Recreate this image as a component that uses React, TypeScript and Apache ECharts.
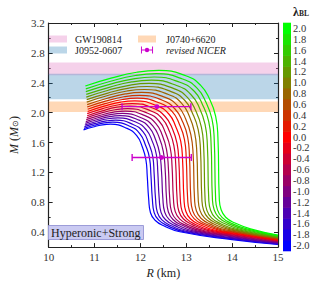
import React, { useEffect, useRef } from 'react';
import * as echarts from 'echarts';

const FONT = 'Liberation Serif';

const lambdas = [-2.0, -1.8, -1.6, -1.4, -1.2, -1.0, -0.8, -0.6, -0.4, -0.2, 0.0, 0.2, 0.4, 0.6, 0.8, 1.0, 1.2, 1.4, 1.6, 1.8, 2.0];

// Mass-radius curves, one per lambda value, [R (km), M (Msun)]
const mrCurves: number[][][] = [
  [[10.76,1.770],[10.97,1.808],[11.17,1.836],[11.35,1.845],[11.71,1.789],[11.92,1.691],[12.04,1.544],[12.12,1.369],[12.15,1.145],[12.18,0.850],[12.22,0.660],[12.32,0.560],[12.51,0.485],[12.86,0.405],[14.00,0.300],[15.00,0.235]],
  [[10.77,1.790],[10.99,1.831],[11.21,1.862],[11.40,1.872],[11.78,1.815],[11.99,1.716],[12.11,1.567],[12.20,1.389],[12.23,1.162],[12.26,0.850],[12.30,0.662],[12.40,0.562],[12.59,0.487],[12.94,0.407],[14.00,0.309],[15.00,0.241]],
  [[10.78,1.812],[11.02,1.856],[11.26,1.889],[11.46,1.900],[11.84,1.842],[12.06,1.742],[12.18,1.590],[12.27,1.410],[12.30,1.180],[12.33,0.850],[12.37,0.664],[12.47,0.564],[12.66,0.489],[13.01,0.409],[14.00,0.318],[15.00,0.247]],
  [[10.79,1.834],[11.04,1.882],[11.29,1.918],[11.51,1.929],[11.91,1.871],[12.13,1.768],[12.26,1.615],[12.35,1.433],[12.38,1.199],[12.41,0.850],[12.45,0.666],[12.55,0.566],[12.74,0.491],[13.09,0.411],[14.00,0.327],[15.00,0.254]],
  [[10.80,1.857],[11.07,1.908],[11.33,1.947],[11.56,1.959],[11.97,1.900],[12.20,1.796],[12.33,1.641],[12.42,1.456],[12.46,1.219],[12.49,0.850],[12.53,0.668],[12.63,0.568],[12.82,0.493],[13.17,0.413],[14.00,0.336],[15.00,0.260]],
  [[10.81,1.880],[11.09,1.935],[11.37,1.976],[11.61,1.989],[12.03,1.929],[12.27,1.824],[12.41,1.667],[12.50,1.479],[12.54,1.239],[12.57,0.850],[12.61,0.670],[12.71,0.570],[12.90,0.495],[13.25,0.415],[14.00,0.345],[15.00,0.266]],
  [[10.82,1.906],[11.12,1.964],[11.42,2.007],[11.67,2.021],[12.10,1.960],[12.34,1.854],[12.48,1.694],[12.57,1.504],[12.61,1.261],[12.64,0.850],[12.68,0.672],[12.78,0.572],[12.97,0.497],[13.32,0.417],[14.00,0.354],[15.00,0.272]],
  [[10.83,1.932],[11.14,1.993],[11.45,2.039],[11.72,2.054],[12.16,1.992],[12.41,1.885],[12.55,1.723],[12.65,1.530],[12.69,1.284],[12.72,0.850],[12.76,0.674],[12.86,0.574],[13.05,0.499],[13.40,0.419],[14.00,0.363],[15.00,0.278]],
  [[10.84,1.959],[11.17,2.024],[11.49,2.073],[11.77,2.088],[12.22,2.026],[12.48,1.916],[12.63,1.753],[12.73,1.558],[12.77,1.308],[12.80,0.850],[12.84,0.676],[12.94,0.576],[13.13,0.501],[13.48,0.421],[14.00,0.372],[15.00,0.285]],
  [[10.84,1.986],[11.18,2.054],[11.53,2.106],[11.82,2.122],[12.28,2.059],[12.54,1.948],[12.70,1.782],[12.80,1.585],[12.84,1.332],[12.87,0.850],[12.91,0.678],[13.01,0.578],[13.20,0.503],[13.55,0.423],[14.00,0.381],[15.00,0.291]],
  [[10.85,2.016],[11.21,2.087],[11.57,2.141],[11.88,2.158],[12.35,2.094],[12.62,1.982],[12.77,1.814],[12.88,1.614],[12.92,1.358],[12.95,0.850],[12.99,0.680],[13.09,0.580],[13.28,0.505],[13.63,0.425],[14.00,0.390],[15.00,0.297]],
  [[10.85,2.045],[11.23,2.120],[11.61,2.176],[11.93,2.194],[12.42,2.129],[12.69,2.016],[12.85,1.846],[12.96,1.643],[13.00,1.384],[13.03,0.850],[13.07,0.682],[13.17,0.582],[13.36,0.507],[13.71,0.427],[14.00,0.399],[15.00,0.303]],
  [[10.84,2.076],[11.24,2.154],[11.64,2.213],[11.98,2.232],[12.48,2.166],[12.75,2.052],[12.92,1.879],[13.03,1.674],[13.07,1.412],[13.10,0.850],[13.14,0.684],[13.24,0.584],[13.43,0.509],[13.78,0.429],[14.00,0.408],[15.00,0.309]],
  [[10.84,2.107],[11.26,2.189],[11.67,2.250],[12.03,2.270],[12.54,2.204],[12.82,2.087],[12.99,1.913],[13.10,1.706],[13.15,1.440],[13.18,0.850],[13.22,0.686],[13.32,0.586],[13.51,0.511],[13.86,0.431],[15.00,0.316]],
  [[10.83,2.141],[11.27,2.226],[11.71,2.290],[12.09,2.310],[12.61,2.243],[12.90,2.125],[13.07,1.949],[13.18,1.739],[13.23,1.470],[13.26,0.850],[13.30,0.688],[13.40,0.588],[13.59,0.513],[13.94,0.433],[15.00,0.322]],
  [[10.83,2.174],[11.29,2.262],[11.75,2.329],[12.14,2.350],[12.67,2.282],[12.97,2.163],[13.14,1.985],[13.26,1.772],[13.31,1.500],[13.34,0.850],[13.38,0.690],[13.48,0.590],[13.67,0.515],[14.02,0.435],[15.00,0.328]],
  [[10.82,2.208],[11.30,2.300],[11.78,2.369],[12.19,2.391],[12.73,2.322],[13.03,2.202],[13.21,2.021],[13.33,1.806],[13.38,1.531],[13.41,0.850],[13.45,0.692],[13.55,0.592],[13.74,0.517],[14.09,0.437],[15.00,0.334]],
  [[10.82,2.244],[11.32,2.339],[11.81,2.411],[12.24,2.434],[12.79,2.364],[13.10,2.243],[13.29,2.060],[13.41,1.842],[13.46,1.564],[13.49,0.850],[13.53,0.694],[13.63,0.594],[13.82,0.519],[14.17,0.439],[15.00,0.340]],
  [[10.81,2.281],[11.33,2.379],[11.85,2.453],[12.30,2.477],[12.86,2.407],[13.18,2.283],[13.36,2.099],[13.49,1.879],[13.54,1.597],[13.57,0.850],[13.61,0.696],[13.71,0.596],[13.90,0.521],[14.25,0.441],[15.00,0.347]],
  [[10.81,2.318],[11.35,2.420],[11.89,2.497],[12.35,2.521],[12.92,2.450],[13.24,2.325],[13.43,2.138],[13.56,1.916],[13.61,1.631],[13.64,0.850],[13.68,0.698],[13.78,0.598],[13.97,0.523],[14.32,0.443],[15.00,0.353]],
  [[10.80,2.356],[11.36,2.461],[11.92,2.541],[12.40,2.566],[12.99,2.494],[13.31,2.368],[13.51,2.179],[13.64,1.954],[13.69,1.666],[13.72,0.850],[13.76,0.700],[13.86,0.600],[14.05,0.525],[14.40,0.445],[15.00,0.360]],
];

// Observational mass bands
const bandNames = ['GW190814', 'J0952-0607', 'J0740+6620'];
const bandLow = [2.50, 2.18, 2.01];
const bandHigh = [2.67, 2.52, 2.15];
const bandColors = ['rgba(227,119,194,0.34)', 'rgba(31,119,180,0.30)', 'rgba(255,127,14,0.30)'];

// revised NICER points
const nicerR = [12.36, 12.46];
const nicerM = [2.08, 1.40];
const nicerRLow = [11.60, 11.82];
const nicerRHigh = [13.10, 13.11];

const yTicks = [0.4, 0.8, 1.2, 1.6, 2.0, 2.4, 2.8, 3.2];
const cbTicks = lambdas;

function brg(l: number): string {
  const t = (l + 2) / 4;
  let r: number, g: number, b: number;
  if (t <= 0.5) { r = 2 * t; g = 0; b = 1 - 2 * t; }
  else { r = 2 - 2 * t; g = 2 * t - 1; b = 0; }
  return `rgb(${Math.round(r * 255)},${Math.round(g * 255)},${Math.round(b * 255)})`;
}

const AXC = '#222';
const LBL = { fontFamily: FONT, fontSize: 11, color: '#333' };

export default function App() {
  const ref = useRef<HTMLDivElement>(null);
  useEffect(() => {
    if (!ref.current) return;
    const chart = echarts.init(ref.current, null, { renderer: 'svg' });

    const bandSeries = bandNames.map((name, i) => ({
      name,
      type: 'custom',
      xAxisIndex: 0,
      yAxisIndex: 0,
      z: 1,
      clip: false,
      itemStyle: { color: bandColors[i] },
      data: [[12.5, bandLow[i], bandHigh[i]]],
      renderItem: (params: any, api: any) => {
        const p1 = api.coord([10, api.value(2)]);
        const p2 = api.coord([15, api.value(1)]);
        return {
          type: 'rect',
          shape: { x: p1[0], y: p1[1], width: p2[0] - p1[0], height: p2[1] - p1[1] },
          style: { fill: bandColors[i] },
        };
      },
    }));

    const curveSeries = mrCurves.map((pts, i) => ({
      name: 'lambda ' + lambdas[i].toFixed(1),
      type: 'line',
      xAxisIndex: 0,
      yAxisIndex: 0,
      z: 3,
      data: pts,
      showSymbol: false,
      symbol: 'none',
      smooth: 0.5,
      lineStyle: { color: brg(lambdas[i]), width: 1.2 },
      itemStyle: { color: brg(lambdas[i]) },
      silent: true,
    }));

    const nicerColor = '#cc00cc';
    const nicerSeries = {
      name: 'revised NICER',
      type: 'custom',
      xAxisIndex: 0,
      yAxisIndex: 0,
      z: 5,
      itemStyle: { color: nicerColor },
      encode: { x: 0, y: 1 },
      data: nicerR.map((r, i) => [r, nicerM[i], nicerRLow[i], nicerRHigh[i]]),
      renderItem: (params: any, api: any) => {
        const m = api.value(1);
        const pc = api.coord([api.value(0), m]);
        const pl = api.coord([api.value(2), m]);
        const ph = api.coord([api.value(3), m]);
        const st = { stroke: nicerColor, lineWidth: 1.4 };
        return {
          type: 'group',
          children: [
            { type: 'line', shape: { x1: pl[0], y1: pl[1], x2: ph[0], y2: ph[1] }, style: st },
            { type: 'line', shape: { x1: pl[0], y1: pl[1] - 3.5, x2: pl[0], y2: pl[1] + 3.5 }, style: st },
            { type: 'line', shape: { x1: ph[0], y1: ph[1] - 3.5, x2: ph[0], y2: ph[1] + 3.5 }, style: st },
            { type: 'circle', shape: { cx: pc[0], cy: pc[1], r: 2.4 }, style: { fill: nicerColor } },
          ],
        };
      },
    };

    const cbSeries = {
      name: 'colorbar',
      type: 'custom',
      xAxisIndex: 2,
      yAxisIndex: 4,
      silent: true,
      data: lambdas.map((l) => [0.5, l]),
      renderItem: (params: any, api: any) => {
        const l = api.value(1);
        const p1 = api.coord([0, l + 0.1]);
        const p2 = api.coord([1, l - 0.1]);
        return {
          type: 'rect',
          shape: { x: p1[0], y: p1[1] - 0.3, width: p2[0] - p1[0], height: p2[1] - p1[1] + 0.6 },
          style: { fill: brg(l) },
        };
      },
    };

    const subRich = {
      i: { fontFamily: FONT, fontStyle: 'italic', fontSize: 12, color: '#222', padding: [0, 0, 3, 0] },
      n: { fontFamily: FONT, fontSize: 12, color: '#222', padding: [0, 0, 3, 0] },
      s: { fontFamily: FONT, fontSize: 8, color: '#222' },
    };

    const option: any = {
      animation: false,
      backgroundColor: '#fff',
      grid: [
        { left: 36, top: 23, width: 242, height: 228 },
        { left: 283, top: 23, width: 8, height: 228 },
      ],
      title: [
        {
          text: 'Hyperonic+Strong',
          left: 48,
          top: 225,
          backgroundColor: '#cacaf2',
          borderColor: '#9c9cd8',
          borderWidth: 1,
          padding: [2, 3, 1, 3],
          textStyle: { fontFamily: FONT, fontSize: 12, fontWeight: 'normal', color: '#222' },
        },
        {
          text: '{l|λ}{s|BL}',
          left: 288,
          top: 1,
          textStyle: {
            rich: {
              l: { fontFamily: FONT, fontSize: 12, color: '#222', padding: [0, 0, 3, 0] },
              s: { fontFamily: FONT, fontSize: 7.5, color: '#222' },
            },
          },
        },
      ],
      legend: [
        {
          left: 44,
          top: 29,
          orient: 'vertical',
          itemWidth: 18,
          itemHeight: 7,
          itemGap: 1,
          icon: 'rect',
          selectedMode: false,
          data: [bandNames[0], bandNames[1]],
          textStyle: { fontFamily: FONT, fontSize: 10, color: '#222', padding: [0, 0, 0, 3] },
        },
        {
          left: 133,
          top: 29,
          orient: 'vertical',
          itemWidth: 18,
          itemHeight: 7,
          itemGap: 1,
          icon: 'rect',
          selectedMode: false,
          data: [
            bandNames[2],
            {
              name: 'revised NICER',
              icon: 'path://M0,3.1H10V3.9H0Z M0,0.6H0.8V6.4H0Z M9.2,0.6H10V6.4H9.2Z M6.8,3.5A1.8,1.8,0,1,1,3.2,3.5A1.8,1.8,0,1,1,6.8,3.5Z',
              textStyle: { fontStyle: 'italic' },
            },
          ],
          textStyle: { fontFamily: FONT, fontSize: 10, color: '#222', padding: [0, 0, 0, 5] },
        },
      ],
      xAxis: [
        {
          gridIndex: 0, type: 'value', min: 10, max: 15, interval: 1, position: 'bottom',
          axisLine: { show: true, onZero: false, lineStyle: { color: AXC, width: 1.2 } },
          axisTick: { show: true, inside: true, length: 4, lineStyle: { color: AXC } },
          minorTick: { show: true, splitNumber: 2, length: 2, lineStyle: { color: AXC } },
          axisLabel: { ...LBL, margin: 4 },
          splitLine: { show: false },
          name: '{i|R}{n| (km)}',
          nameLocation: 'middle',
          nameGap: 14,
          nameTextStyle: { rich: subRich },
        },
        {
          gridIndex: 0, type: 'value', min: 10, max: 15, interval: 1, position: 'top',
          axisLine: { show: true, onZero: false, lineStyle: { color: AXC, width: 1.2 } },
          axisTick: { show: true, inside: true, length: 4, lineStyle: { color: AXC } },
          minorTick: { show: true, splitNumber: 2, length: 2, lineStyle: { color: AXC } },
          axisLabel: { show: false },
          splitLine: { show: false },
        },
        { gridIndex: 1, type: 'value', min: 0, max: 1, show: false },
      ],
      yAxis: [
        {
          gridIndex: 0, type: 'value', min: 0.2, max: 3.2, interval: 0.2, position: 'left',
          axisLine: { show: true, onZero: false, lineStyle: { color: AXC, width: 1.2 } },
          axisTick: { show: true, inside: true, length: 4, customValues: yTicks, lineStyle: { color: AXC } },
          axisLabel: { ...LBL, margin: 4, customValues: yTicks, formatter: (v: number) => v.toFixed(1) },
          splitLine: { show: false },
          name: '{i|M}{n| (}{i|M}{s|⊙}{n|)}',
          nameLocation: 'middle',
          nameGap: 18,
          nameRotate: 90,
          nameTextStyle: { rich: subRich },
        },
        {
          gridIndex: 0, type: 'value', min: 0.2, max: 3.2, interval: 0.2, position: 'left',
          axisLine: { show: false },
          axisTick: { show: true, inside: true, length: 2, lineStyle: { color: AXC } },
          axisLabel: { show: false },
          splitLine: { show: false },
        },
        {
          gridIndex: 0, type: 'value', min: 0.2, max: 3.2, interval: 0.2, position: 'right',
          axisLine: { show: true, onZero: false, lineStyle: { color: AXC, width: 1.2 } },
          axisTick: { show: true, inside: true, length: 4, customValues: yTicks, lineStyle: { color: AXC } },
          axisLabel: { show: false },
          splitLine: { show: false },
        },
        {
          gridIndex: 0, type: 'value', min: 0.2, max: 3.2, interval: 0.2, position: 'right',
          axisLine: { show: false },
          axisTick: { show: true, inside: true, length: 2, lineStyle: { color: AXC } },
          axisLabel: { show: false },
          splitLine: { show: false },
        },
        {
          gridIndex: 1, type: 'value', min: -2.1, max: 2.1, position: 'right',
          axisLine: { show: false },
          axisTick: { show: true, inside: false, length: 2, customValues: cbTicks, lineStyle: { color: AXC } },
          axisLabel: { fontFamily: FONT, fontSize: 10.5, color: '#333', margin: 2, customValues: cbTicks, formatter: (v: number) => v.toFixed(1) },
          splitLine: { show: false },
        },
      ],
      series: [...bandSeries, ...curveSeries, nicerSeries, cbSeries],
    };

    chart.setOption(option);
    return () => chart.dispose();
  }, []);

  return <div ref={ref} style={{ width: 317, height: 284, position: 'absolute', left: 0, top: 0 }} />;
}
